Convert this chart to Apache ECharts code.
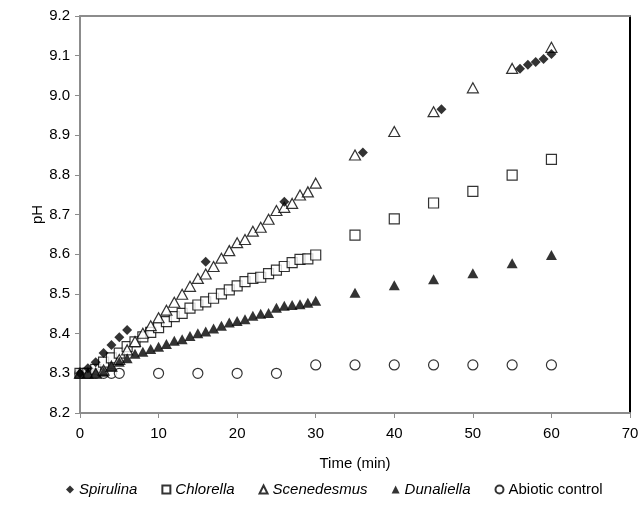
<!DOCTYPE html>
<html>
<head>
<meta charset="utf-8">
<script src="https://cdn.jsdelivr.net/npm/echarts@6/dist/echarts.min.js"></script>
<style>
  html, body { margin: 0; padding: 0; background: #fff; }
  #chart { width: 644px; height: 509px; }
</style>
</head>
<body>
<div id="chart"></div>
<script>
// time points (min) and pH readings
const spirulinaTime = [0, 1, 2, 3, 4, 5, 6, 16, 26, 36, 46, 56, 57, 58, 59, 60];
const spirulinaPH = [8.30, 8.313, 8.328, 8.351, 8.371, 8.391, 8.409, 8.581, 8.732, 8.856, 8.965, 9.067, 9.077, 9.084, 9.092, 9.104];

const fullTime = [0, 1, 2, 3, 4, 5, 6, 7, 8, 9, 10, 11, 12, 13, 14, 15, 16, 17, 18, 19, 20, 21, 22, 23, 24, 25, 26, 27, 28, 29, 30, 35, 40, 45, 50, 55, 60];
const chlorellaPH = [8.30, 8.30, 8.31, 8.328, 8.339, 8.351, 8.367, 8.379, 8.392, 8.403, 8.415, 8.43, 8.443, 8.451, 8.464, 8.472, 8.48, 8.489, 8.50, 8.51, 8.52, 8.531, 8.539, 8.542, 8.551, 8.56, 8.569, 8.579, 8.587, 8.588, 8.598, 8.648, 8.689, 8.729, 8.758, 8.799, 8.839];
const scenedesmusPH = [8.30, 8.30, 8.30, 8.308, 8.318, 8.335, 8.359, 8.38, 8.401, 8.42, 8.44, 8.459, 8.479, 8.499, 8.519, 8.539, 8.55, 8.569, 8.59, 8.609, 8.629, 8.637, 8.658, 8.668, 8.688, 8.71, 8.718, 8.728, 8.749, 8.757, 8.779, 8.85, 8.909, 8.959, 9.019, 9.068, 9.121];
const dunaliellaPH = [8.30, 8.30, 8.30, 8.304, 8.317, 8.329, 8.338, 8.349, 8.354, 8.361, 8.367, 8.374, 8.382, 8.386, 8.394, 8.401, 8.405, 8.413, 8.42, 8.428, 8.432, 8.436, 8.445, 8.45, 8.452, 8.465, 8.47, 8.472, 8.474, 8.478, 8.483, 8.503, 8.522, 8.537, 8.552, 8.577, 8.598];

const controlTime = [0, 1, 2, 3, 4, 5, 10, 15, 20, 25, 30, 35, 40, 45, 50, 55, 60];
const controlPH = [8.30, 8.30, 8.30, 8.30, 8.30, 8.30, 8.30, 8.30, 8.30, 8.30, 8.321, 8.321, 8.321, 8.321, 8.321, 8.321, 8.321];

const seriesNames = ['Spirulina', 'Chlorella', 'Scenedesmus', 'Dunaliella', 'Abiotic control'];

const pairs = (xs, ys) => xs.map((x, i) => [x, ys[i]]);

const font = 'Liberation Sans, Arial, sans-serif';
const axisGray = '#8c8c8c';

const chart = echarts.init(document.getElementById('chart'), null, {renderer: 'canvas'});

const openStyle = {color: '#fff', borderColor: '#000', borderWidth: 1.2};
const filledStyle = {color: '#000'};

chart.setOption({
  animation: false,
  backgroundColor: '#fff',
  grid: {left: 80, right: 14, top: 16, bottom: 96},
  legend: {
    bottom: 7,
    left: 61,
    itemWidth: 8,
    itemHeight: 8,
    itemGap: 24,
    textStyle: {fontFamily: font, fontSize: 15, color: '#000'},
    data: [
      {name: 'Spirulina', textStyle: {fontStyle: 'italic'}},
      {name: 'Chlorella', textStyle: {fontStyle: 'italic'}},
      {name: 'Scenedesmus', textStyle: {fontStyle: 'italic'}},
      {name: 'Dunaliella', textStyle: {fontStyle: 'italic'}},
      {name: 'Abiotic control'}
    ]
  },
  xAxis: [{
    type: 'value',
    position: 'bottom',
    min: 0, max: 70, interval: 10,
    name: 'Time (min)',
    nameLocation: 'middle',
    nameGap: 43,
    nameMoveOverlap: false,
    nameTextStyle: {fontFamily: font, fontSize: 15, color: '#000'},
    axisLine: {onZero: false, lineStyle: {color: axisGray, width: 2}},
    axisTick: {show: true, inside: false, length: 5, lineStyle: {color: axisGray}},
    axisLabel: {fontFamily: font, fontSize: 15, color: '#000', margin: 13},
    splitLine: {show: false}
  }, {
    type: 'value',
    position: 'top',
    min: 0, max: 70,
    axisLine: {show: true, onZero: false, lineStyle: {color: axisGray, width: 2}},
    axisTick: {show: false},
    axisLabel: {show: false},
    splitLine: {show: false}
  }],
  yAxis: [{
    type: 'value',
    position: 'left',
    min: 8.2, max: 9.2, interval: 0.1,
    name: 'pH',
    nameLocation: 'middle',
    nameGap: 35,
    nameMoveOverlap: false,
    nameTextStyle: {fontFamily: font, fontSize: 15, color: '#000'},
    axisLine: {show: true, onZero: false, lineStyle: {color: axisGray, width: 2}},
    axisTick: {show: true, inside: false, length: 5, lineStyle: {color: axisGray}},
    axisLabel: {fontFamily: font, fontSize: 15, color: '#000', margin: 10,
      formatter: v => v.toFixed(1)},
    splitLine: {show: false}
  }, {
    type: 'value',
    position: 'right',
    min: 8.2, max: 9.2,
    axisLine: {show: true, onZero: false, lineStyle: {color: '#000', width: 2}},
    axisTick: {show: false},
    axisLabel: {show: false},
    splitLine: {show: false}
  }],
  series: [
    {name: seriesNames[0], type: 'scatter', symbol: 'diamond', symbolSize: 10, z: 6,
      itemStyle: filledStyle, data: pairs(spirulinaTime, spirulinaPH)},
    {name: seriesNames[1], type: 'scatter', symbol: 'rect', symbolSize: 10, z: 3,
      itemStyle: openStyle, data: pairs(fullTime, chlorellaPH)},
    {name: seriesNames[2], type: 'scatter', symbol: 'triangle', symbolSize: [11, 10], z: 4,
      itemStyle: openStyle, data: pairs(fullTime, scenedesmusPH)},
    {name: seriesNames[3], type: 'scatter', symbol: 'triangle', symbolSize: [11, 10], z: 5,
      itemStyle: filledStyle, data: pairs(fullTime, dunaliellaPH)},
    {name: seriesNames[4], type: 'scatter', symbol: 'circle', symbolSize: 10, z: 2,
      itemStyle: openStyle, data: pairs(controlTime, controlPH)}
  ]
});
</script>
</body>
</html>
